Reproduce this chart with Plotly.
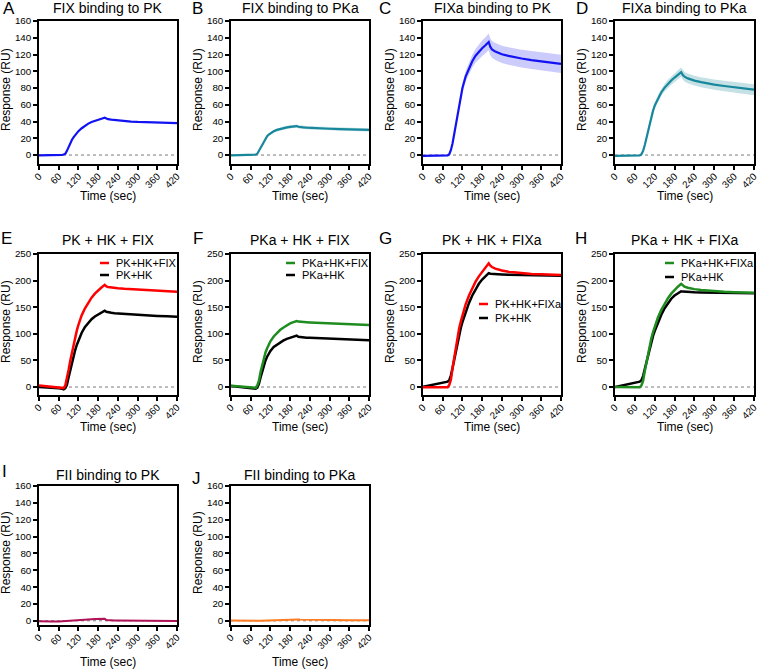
import plotly.graph_objects as go

W, H = 757, 670
FONT = "Arial, 'Liberation Sans', Helvetica, sans-serif"

# ---------------- data ----------------
time_s = [0, 20, 40, 60, 70, 75, 80, 85, 90, 95, 100, 105, 110, 115, 120, 130, 140, 150, 160,
          170, 180, 190, 200, 205, 210, 220, 230, 240, 260, 280, 300, 330, 360, 390, 420]

fix_pk = [-0.5, -0.5, -0.3, 0, 0.3, 0.6, 1.5, 5, 10, 14.5, 18, 21, 24, 26.5, 28.5, 32, 35, 37.5, 39.5,
          41, 42.3, 43.4, 44.5, 43.3, 42.8, 42.2, 41.7, 41.3, 40.6, 40.0, 39.5, 39.0, 38.6, 38.3, 38.0]

fix_pka = [-0.3, -0.3, -0.2, 0, 0.2, 0.5, 1.5, 5, 9.5, 13.5, 17, 20, 22.5, 24.5, 26, 28.3, 30, 31.2, 32.2,
           33, 33.7, 34.2, 34.6, 33.8, 33.4, 33, 32.7, 32.4, 32, 31.7, 31.4, 31, 30.7, 30.3, 30]
fix_pka_err = [0.5, 0.5, 0.5, 0.5, 0.5, 0.5, 0.6, 0.8, 1, 1.1, 1.2, 1.3, 1.4, 1.5, 1.5, 1.6, 1.7, 1.8, 1.8,
               1.9, 1.9, 2, 2, 2, 2, 2, 2, 2, 2, 2, 2, 2, 2, 2, 2]

fixa_pk = [-1, -1, -1, -1, -1, -0.5, 1, 6, 14, 25, 37, 49, 61, 71, 80, 94, 104, 112, 118.5,
           123.5, 127.5, 131, 135, 129, 126, 123.5, 121.5, 120.3, 118.3, 116.6, 115.2, 113.4, 111.7, 110.2, 108.8]
fixa_pk_err = [0.6, 0.6, 0.6, 0.6, 0.6, 0.7, 0.9, 1.3, 2, 2.6, 3.2, 3.8, 4.4, 5, 5.5, 6.3, 7, 7.6, 8.2,
               8.7, 9.2, 9.6, 10, 10, 10, 10.1, 10.2, 10.3, 10.4, 10.5, 10.6, 10.7, 10.8, 10.9, 11]

fixa_pka = [-1, -1, -1, -1, -0.8, -0.5, 1, 5, 12, 21, 30, 39, 47, 53, 59, 68, 75, 80.5, 85,
            89, 92.5, 95.8, 99, 95.5, 93.5, 91.5, 90, 88.8, 87, 85.3, 84, 82.4, 81, 79.5, 78]
fixa_pka_err = [0.5, 0.5, 0.5, 0.5, 0.5, 0.5, 0.7, 1, 1.5, 2, 2.4, 2.8, 3.1, 3.4, 3.6, 4, 4.3, 4.6, 4.8,
                5, 5.2, 5.4, 5.5, 5.5, 5.6, 5.7, 5.8, 5.9, 6, 6.1, 6.2, 6.3, 6.4, 6.5, 6.6]

pk_hk_fix = [3, 2, 1, 0, -1, -2, 3, 15, 32, 49, 65, 80, 94, 106, 117, 135, 148, 159, 168,
             175.5, 182, 187, 192, 189, 188, 187, 186, 185.5, 184.5, 183.7, 183, 182, 181, 180, 179]
pk_hk_e = [0, -0.5, -1.5, -2.5, -3.5, -4.5, -2, 4, 18, 32, 46, 58, 69, 79, 88, 102, 113, 121, 127.5,
           132.5, 136.5, 140, 143.5, 141.5, 140.5, 139.5, 138.8, 138.3, 137.3, 136.4, 135.6, 134.6, 133.7, 132.8, 132]

pka_hk_fix = [2.5, 1.8, 0.8, -0.5, -1.3, -1.5, 3, 12, 28, 42, 55, 65, 73, 80, 86, 95, 102, 107.5, 112,
              116, 119.5, 122, 124, 123, 122.5, 122, 121.7, 121.3, 120.8, 120.3, 119.7, 118.8, 118, 117.2, 116.5]
pka_hk_f = [2, 1, 0, -1.5, -2.5, -3, -1, 6, 18, 30, 40, 50, 57, 63, 68, 75.5, 80, 84.5, 87.5,
            90.5, 92.5, 94.5, 96.5, 94.5, 94, 93.3, 92.8, 92.5, 92, 91.6, 91.3, 90.4, 89.5, 88.7, 88]

pk_hk_fixa = [-0.5, -0.5, -0.5, -0.5, -0.5, -0.3, 4, 14, 36, 56, 75, 93, 110, 123, 135, 156, 172, 186, 198,
              208, 216.5, 224.5, 232.5, 228, 225.5, 222.5, 220.5, 219, 216.5, 215, 213.8, 212.6, 211.8, 211, 210.5]
pk_hk_g = [0.5, 3, 5.5, 8, 9, 10, 13, 22, 36, 51, 68, 84, 99, 111, 122, 142, 158, 172, 184,
           194, 202, 208.5, 214, 213, 212.7, 212.3, 212, 211.7, 211.2, 210.8, 210.5, 210, 209.7, 209.3, 209]

pka_hk_fixa = [0, 0, -0.5, -0.5, -0.5, -0.3, 3, 12, 30, 47, 63, 78, 92, 103, 113, 131, 145, 157, 167,
               175.5, 182.5, 188.5, 194, 190.5, 188.5, 186.5, 185, 184, 182.3, 181, 180, 179, 178.3, 177.6, 177]
pka_hk_h = [0, 2.5, 5, 7.5, 9, 10, 13, 21, 34, 47, 61, 74, 86, 96, 105, 122, 136, 148, 158,
            166, 172, 176.5, 180, 179.3, 179, 178.6, 178.3, 178, 177.6, 177.3, 177, 176.7, 176.4, 176.2, 176]

fii_pk = [-0.5, -0.3, -0.8, -0.8, -0.5, -0.3, -0.5, -0.3, -0.2, 0, 0.2, 0.5, 1.2, 1.4, 1.3, 1.5, 1.7, 1.8, 1.9,
          2, 2, 1.9, 2.3, 0.8, 0.6, 0.5, 0.4, 0.3, 0.2, 0.1, 0, 0, -0.6, -0.2, -0.3]
fii_pka = [0.2, 0, -0.2, -0.6, -0.4, -0.3, -0.2, -0.1, 0, 0.1, 0.2, 0.3, 0.4, 0.5, 0.6, 0.8, 1, 1.2, 1.4,
           1.6, 1.8, 1.8, 1.8, 1.6, 1.5, 1.4, 1.3, 1.2, 1.0, 0.9, 0.8, 0.8, 0.7, 0.7, 0.7]

x_ticks = [0, 60, 120, 180, 240, 300, 360, 420]
y_ticks_small = [0, 20, 40, 60, 80, 100, 120, 140, 160]
y_ticks_big = [0, 50, 100, 150, 200, 250]

# ---------------- styling ----------------
BLUE = "#1212f2"
TEAL = "#17879b"
RED = "#ff0000"
BLACK = "#000000"
GREEN = "#1e8c1e"
MAROON = "#b01257"
ORANGE = "#ff7b22"
BAND_BLUE = "rgba(18,18,242,0.22)"
BAND_TEAL = "rgba(23,135,155,0.25)"

COLS = [(39, 177), (231, 369), (423, 561), (615, 754)]
ROWS = [(21, 164), (254, 395), (486, 625)]
YRANGE = [[-10.7, 160], [-15, 250], [-5, 160]]
YTICKS = [y_ticks_small, y_ticks_big, y_ticks_small]
TITLE_Y = [8, 240, 475]
XTITLE_Y = [196, 427, 662]

panels = [
    dict(letter="A", lpos=(8.5, 9), title="FIX binding to PK", r=0, c=0,
         series=[(fix_pk, None, BLUE, 2.2, None)]),
    dict(letter="B", lpos=(197.5, 9), title="FIX binding to PKa", r=0, c=1,
         series=[(fix_pka, fix_pka_err, TEAL, 2.2, BAND_TEAL)]),
    dict(letter="C", lpos=(385, 9), title="FIXa binding to PK", r=0, c=2,
         series=[(fixa_pk, fixa_pk_err, BLUE, 2.2, BAND_BLUE)]),
    dict(letter="D", lpos=(582, 9), title="FIXa binding to PKa", r=0, c=3,
         series=[(fixa_pka, fixa_pka_err, TEAL, 2.2, BAND_TEAL)]),
    dict(letter="E", lpos=(6, 238), title="PK + HK + FIX", r=1, c=0,
         series=[(pk_hk_e, None, BLACK, 2.5, None), (pk_hk_fix, None, RED, 2.5, None)],
         legend=[("PK+HK+FIX", RED, 100, 263), ("PK+HK", BLACK, 100, 275)]),
    dict(letter="F", lpos=(198, 238), title="PKa + HK + FIX", r=1, c=1,
         series=[(pka_hk_f, None, BLACK, 2.5, None), (pka_hk_fix, None, GREEN, 2.5, None)],
         legend=[("PKa+HK+FIX", GREEN, 286, 263), ("PKa+HK", BLACK, 286, 275)]),
    dict(letter="G", lpos=(385, 238), title="PK + HK + FIXa", r=1, c=2,
         series=[(pk_hk_g, None, BLACK, 2.5, None), (pk_hk_fixa, None, RED, 2.5, None)],
         legend=[("PK+HK+FIXa", RED, 479, 304), ("PK+HK", BLACK, 479, 318)]),
    dict(letter="H", lpos=(581, 238), title="PKa + HK + FIXa", r=1, c=3,
         series=[(pka_hk_h, None, BLACK, 2.5, None), (pka_hk_fixa, None, GREEN, 2.5, None)],
         legend=[("PKa+HK+FIXa", GREEN, 665, 263), ("PKa+HK", BLACK, 665, 277)]),
    dict(letter="I", lpos=(4, 471), title="FII binding to PK", r=2, c=0,
         series=[(fii_pk, None, MAROON, 2.0, None)]),
    dict(letter="J", lpos=(196.5, 478), title="FII binding to PKa", r=2, c=1,
         series=[(fii_pka, None, ORANGE, 2.0, None)]),
]


def px_x(x):
    return x / W


def px_y(y):
    return 1 - y / H


fig = go.Figure()
layout = dict(
    width=W, height=H, margin=dict(l=0, r=0, t=0, b=0, autoexpand=False),
    paper_bgcolor="white", plot_bgcolor="white", showlegend=False,
    font=dict(family=FONT, color="black"),
)
annotations = []
shapes = []

for i, p in enumerate(panels, start=1):
    xa = "x" if i == 1 else f"x{i}"
    ya = "y" if i == 1 else f"y{i}"
    xl, xr = COLS[p["c"]]
    yt, yb = ROWS[p["r"]]
    axis_common = dict(showline=True, linecolor="black", linewidth=1.5, mirror=True,
                       ticks="outside", ticklen=4, tickwidth=1.5, tickcolor="black",
                       showgrid=False, zeroline=False, automargin=False,
                       ticklabeloverflow="allow",
                       tickfont=dict(family=FONT, size=9.8, color="black"))
    layout[f"xaxis{'' if i == 1 else i}"] = dict(
        axis_common, domain=[px_x(xl), px_x(xr)], range=[0, 420], anchor=ya,
        tickmode="array", tickvals=x_ticks, ticktext=[str(v) for v in x_ticks], tickangle=-45,
        ticklabelstandoff=-3)
    layout[f"yaxis{'' if i == 1 else i}"] = dict(
        axis_common, domain=[px_y(yb), px_y(yt)], range=YRANGE[p["r"]], anchor=xa,
        tickmode="array", tickvals=YTICKS[p["r"]], ticktext=[str(v) for v in YTICKS[p["r"]]])

    # dotted zero line
    shapes.append(dict(type="line", xref=f"{xa} domain", yref=ya, x0=0, x1=1, y0=0, y1=0,
                       line=dict(color="#7a7a7a", width=1, dash="dot"), layer="below"))

    for vals, err, col, lw, band in p["series"]:
        if err is not None:
            upper = [v + e for v, e in zip(vals, err)]
            lower = [v - e for v, e in zip(vals, err)]
            fig.add_trace(go.Scatter(x=time_s, y=upper, mode="lines", line=dict(width=0),
                                     xaxis=xa, yaxis=ya, hoverinfo="skip"))
            fig.add_trace(go.Scatter(x=time_s, y=lower, mode="lines", line=dict(width=0),
                                     fill="tonexty", fillcolor=band,
                                     xaxis=xa, yaxis=ya, hoverinfo="skip"))
        fig.add_trace(go.Scatter(x=time_s, y=vals, mode="lines",
                                 line=dict(color=col, width=lw), xaxis=xa, yaxis=ya))

    # panel title
    annotations.append(dict(text=p["title"], x=px_x((xl + xr) / 2), y=px_y(TITLE_Y[p["r"]]),
                            xref="paper", yref="paper", xanchor="center", yanchor="middle",
                            showarrow=False, font=dict(family=FONT, size=14, color="black")))
    # panel letter
    lx, ly = p["lpos"]
    annotations.append(dict(text=p["letter"], x=px_x(lx), y=px_y(ly),
                            xref="paper", yref="paper", xanchor="center", yanchor="middle",
                            showarrow=False, font=dict(family=FONT, size=17, color="black")))
    # axis titles
    annotations.append(dict(text="Response (RU)", x=px_x(xl - 33.5), y=px_y((yt + yb) / 2 - 3),
                            xref="paper", yref="paper", xanchor="center", yanchor="middle",
                            textangle=-90, showarrow=False,
                            font=dict(family=FONT, size=12, color="black")))
    annotations.append(dict(text="Time (sec)", x=px_x((xl + xr) / 2), y=px_y(XTITLE_Y[p["r"]]),
                            xref="paper", yref="paper", xanchor="center", yanchor="middle",
                            showarrow=False, font=dict(family=FONT, size=12, color="black")))
    # legend (manual)
    for name, col, lx0, ly0 in p.get("legend", []):
        shapes.append(dict(type="line", xref="paper", yref="paper",
                           x0=px_x(lx0), x1=px_x(lx0 + 9), y0=px_y(ly0), y1=px_y(ly0),
                           line=dict(color=col, width=2.5)))
        annotations.append(dict(text=name, x=px_x(lx0 + 14), y=px_y(ly0),
                                xref="paper", yref="paper", xanchor="left", yanchor="middle",
                                showarrow=False, font=dict(family=FONT, size=11, color="black")))

layout["annotations"] = annotations
layout["shapes"] = shapes
fig.update_layout(**layout)
fig.write_html("out.html", config={"displayModeBar": False},
               post_script="document.body.style.margin='0px';document.body.style.overflow='hidden';")
